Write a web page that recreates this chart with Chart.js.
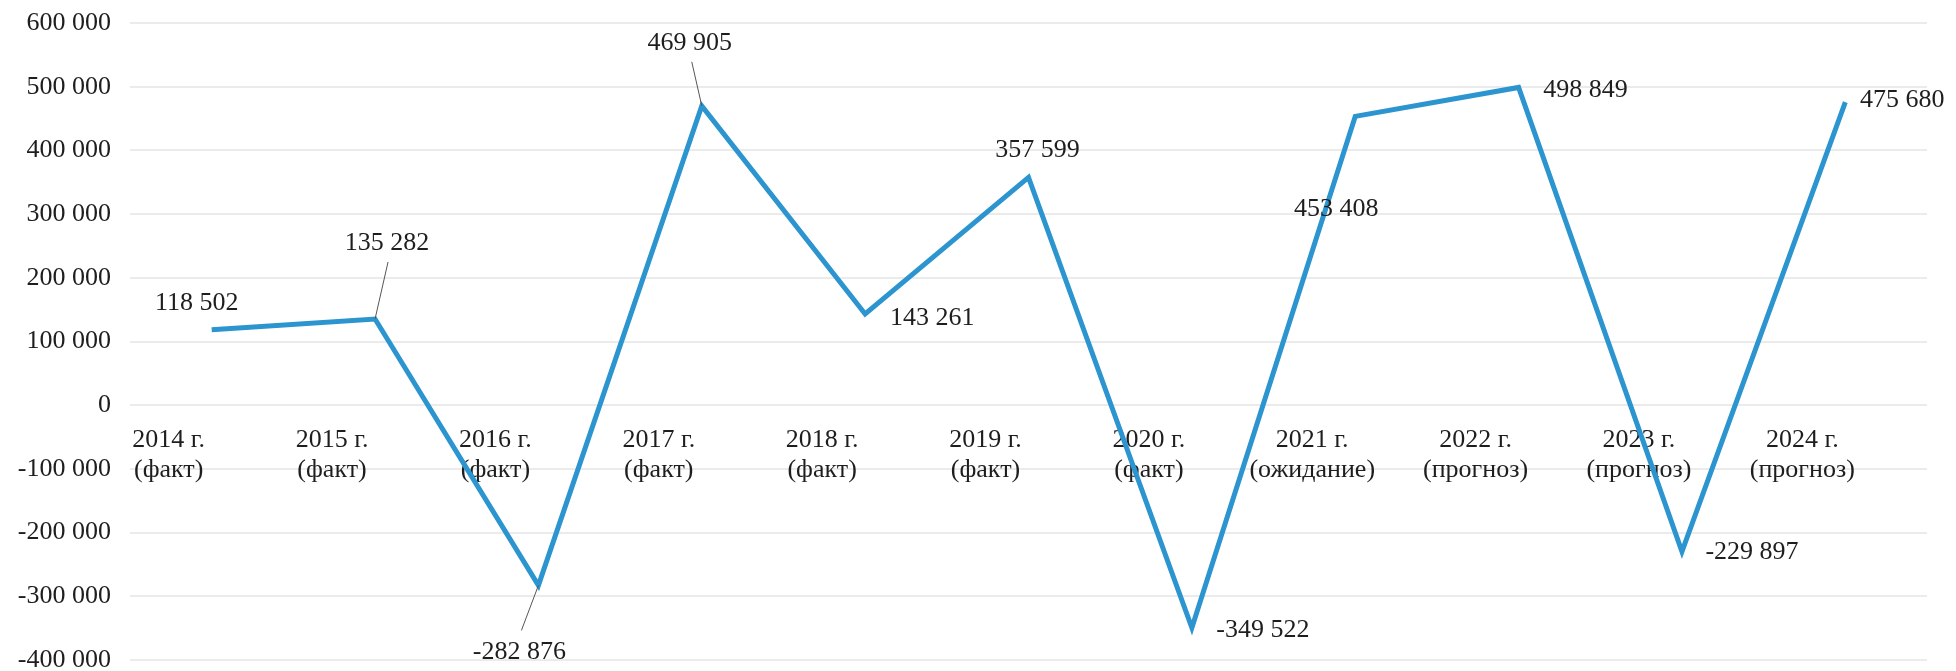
<!DOCTYPE html>
<html lang="ru">
<head>
<meta charset="utf-8">
<title>Динамика</title>
<script src="https://cdn.jsdelivr.net/npm/chart.js@4.4.1/dist/chart.umd.min.js"></script>
<style>
    html, body { margin: 0; padding: 0; background: #fff; }
    #wrap { width: 1956px; height: 671px; position: relative; }
</style>
</head>
<body>
<div id="wrap"><canvas id="lineChart"></canvas></div>
<script>
// categories (two-line labels)
const years = ['2014 г.', '2015 г.', '2016 г.', '2017 г.', '2018 г.', '2019 г.', '2020 г.', '2021 г.', '2022 г.', '2023 г.', '2024 г.'];
const notes = ['(факт)', '(факт)', '(факт)', '(факт)', '(факт)', '(факт)', '(факт)', '(ожидание)', '(прогноз)', '(прогноз)', '(прогноз)'];

// series values
const values = [118502, 135282, -282876, 469905, 143261, 357599, -349522, 453408, 498849, -229897, 475680];

// y axis ticks
const yMin = -400000;
const yMax = 600000;
const yStep = 100000;

// where each value label sits relative to its point: [dx, dy, leader line]
const labelShift = [
    [-15, -27, false],
    [12, -76, true],
    [-19, 67, true],
    [-12, -63, true],
    [67, 4, false],
    [9, -27, false],
    [71, 2, false],
    [-19, 93, false],
    [67, 3, false],
    [70, 1, false],
    [57, -2, false]
];

const FONT = '"Liberation Serif", "Times New Roman", serif';
const TEXT = '#1e1e1e';

function fmt(v) {
    const s = Math.abs(Math.round(v)).toString().replace(/\B(?=(\d{3})+(?!\d))/g, ' ');
    return (v < 0 ? '-' : '') + s;
}

// value labels + leader lines
const valueLabels = {
    id: 'valueLabels',
    afterDatasetsDraw(chart) {
        const ctx = chart.ctx;
        const meta = chart.getDatasetMeta(0);
        ctx.save();
        ctx.font = '26px ' + FONT;
        ctx.fillStyle = TEXT;
        ctx.textAlign = 'center';
        ctx.textBaseline = 'middle';
        meta.data.forEach((pt, i) => {
            const [dx, dy, leader] = labelShift[i];
            if (leader) {
                ctx.beginPath();
                ctx.strokeStyle = '#555';
                ctx.lineWidth = 1;
                ctx.moveTo(pt.x, pt.y);
                ctx.lineTo(pt.x + dx + (dx > 0 ? 1 : 2), pt.y + dy + (dy < 0 ? 19 : -22));
                ctx.stroke();
            }
            ctx.fillText(fmt(values[i]), pt.x + dx, pt.y + dy);
        });
        ctx.restore();
    }
};

const ctx = document.getElementById('lineChart').getContext('2d');
const lineChart = new Chart(ctx, {
    type: 'line',
    data: {
        labels: years.map((y, i) => [y, notes[i]]),
        datasets: [{
            data: values,
            borderColor: '#2c95d0',
            borderWidth: 5,
            tension: 0,
            pointRadius: 0,
            fill: false
        }]
    },
    options: {
        responsive: true,
        maintainAspectRatio: false,
        animation: false,
        layout: { padding: { left: 0, right: 29, top: 23, bottom: 11 } },
        plugins: { legend: { display: false }, tooltip: { enabled: false } },
        scales: {
            x: {
                position: { y: 0 },
                offset: true,
                grid: { display: false, drawTicks: false },
                border: { display: false },
                ticks: {
                    color: TEXT,
                    font: { family: FONT, size: 26, lineHeight: 1.15 },
                    padding: 20,
                    labelOffset: -43,
                    maxRotation: 0,
                    autoSkip: false
                },
                afterFit(scale) {
                    scale.paddingLeft = 0;
                    scale.paddingRight = 0;
                }
            },
            y: {
                min: yMin,
                max: yMax,
                grid: { color: '#ebebeb', lineWidth: 2, drawTicks: false, tickLength: 0 },
                border: { display: false },
                ticks: {
                    stepSize: yStep,
                    color: TEXT,
                    padding: 19,
                    font: { family: FONT, size: 26 },
                    callback: v => fmt(v)
                },
                afterFit(scale) {
                    scale.width = 130;
                    scale.paddingTop = 0;
                    scale.paddingBottom = 0;
                }
            }
        }
    },
    plugins: [valueLabels]
});
</script>
</body>
</html>
